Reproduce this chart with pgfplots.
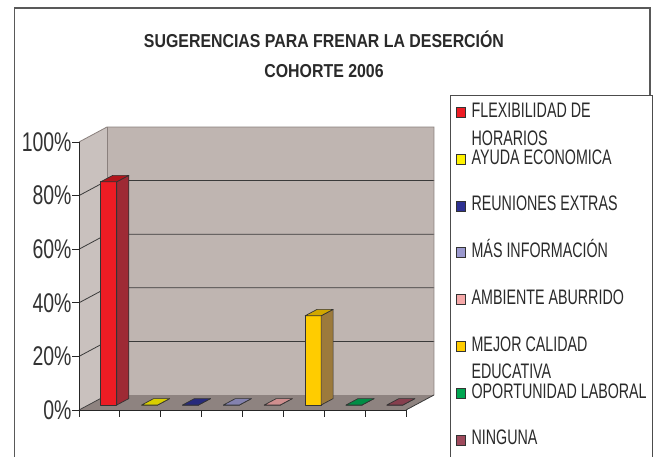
\documentclass[border=0pt]{standalone}
\usepackage{pgfplots}
\pgfplotsset{compat=1.18}
\usepackage{fontspec}
\setmainfont{Liberation Sans}
\newfontfamily\titlefam[FakeStretch=0.85]{Liberation Sans}
\newfontfamily\tickfam[FakeStretch=0.72]{Liberation Sans}
\newfontfamily\legfam[FakeStretch=0.68]{Liberation Sans}
\newcommand\titlefont{\titlefam\bfseries\fontsize{18.7bp}{22bp}\selectfont}
\newcommand\tickfont{\tickfam\fontsize{27bp}{30bp}\selectfont}
\newcommand\legfont{\legfam\fontsize{21bp}{24bp}\selectfont}

\definecolor{wallback}{HTML}{BFB5B1}
\definecolor{wallside}{HTML}{C9C1BE}
\definecolor{wallfloor}{HTML}{8E8380}
\definecolor{walledge}{HTML}{8A807D}
\definecolor{gridc}{HTML}{3A3A3A}
\definecolor{txt}{HTML}{2A2A2A}
\definecolor{cA}{HTML}{ED1C24}
\definecolor{cB}{HTML}{FFF200}
\definecolor{cC}{HTML}{2E3192}
\definecolor{cD}{HTML}{9B99CE}
\definecolor{cE}{HTML}{F5A8A8}
\definecolor{cF}{HTML}{FFCC00}
\definecolor{cG}{HTML}{00A651}
\definecolor{cH}{HTML}{9E4A5C}

\newcommand\declbar[4]{%
  \pgfdeclareplotmark{#1}{%
    \pgfmathsetlengthmacro\bh{\barv*2.68bp}%
    \pgfsetlinewidth{0.7bp}%
    \pgfsetstrokecolor{black!80}%
    \pgfsetroundjoin
    \pgfsetfillcolor{#2}%
    \pgfpathrectanglecorners{\pgfpoint{1.33bp}{5bp-\bh}}{\pgfpoint{17.33bp}{5bp}}%
    \pgfusepath{fill,stroke}%
    \pgfsetfillcolor{#3}%
    \pgfpathmoveto{\pgfpoint{17.33bp}{5bp-\bh}}%
    \pgfpathlineto{\pgfpoint{17.33bp}{5bp}}%
    \pgfpathlineto{\pgfpoint{29.33bp}{11.4bp}}%
    \pgfpathlineto{\pgfpoint{29.33bp}{11.4bp-\bh}}%
    \pgfpathclose
    \pgfusepath{fill,stroke}%
    \pgfsetfillcolor{#4}%
    \pgfpathmoveto{\pgfpoint{1.33bp}{5bp}}%
    \pgfpathlineto{\pgfpoint{17.33bp}{5bp}}%
    \pgfpathlineto{\pgfpoint{29.33bp}{11.4bp}}%
    \pgfpathlineto{\pgfpoint{13.33bp}{11.4bp}}%
    \pgfpathclose
    \pgfusepath{fill,stroke}%
  }}
\declbar{barA}{cA}{HTML9E2A35}{cA!75!black}
\declbar{barB}{cB}{cB!60!black}{cB!85!black}
\declbar{barC}{cC}{cC!60!black}{cC!85!black}
\declbar{barD}{cD}{cD!60!black}{cD!85!black}
\declbar{barE}{cE}{cE!60!black}{cE!85!black}
\declbar{barF}{cF}{bfside}{cF!82!black}
\declbar{barG}{cG}{cG!60!black}{cG!85!black}
\declbar{barH}{cH}{cH!60!black}{cH!85!black}
\definecolor{HTML9E2A35}{HTML}{9E2A35}
\definecolor{bfside}{HTML}{9C7A3C}

\pgfplotsset{
  bar3d/.style={scatter, only marks, point meta=y, point meta min=0, point meta max=100,
    visualization depends on={value \thisrow{v} \as \barv},
    scatter/@pre marker code/.code={\pgfscope},
    scatter/@post marker code/.code={\endpgfscope}},
  legsw/.style={legend image code/.code={\draw[draw=black!80, line width=0.6bp, fill=#1] (0bp,0bp) rectangle (8.5bp,10bp);}}
}

\begin{document}
\begin{tikzpicture}
\path[use as bounding box] (0,0) rectangle (658bp,457bp);
\clip (0,0) rectangle (658bp,457bp);
\fill[white] (0,0) rectangle (658bp,457bp);
\draw[black!65, line width=1.3bp] (14.7bp,-5bp) -- (14.7bp,449bp) -- (650bp,449bp) -- (650bp,-5bp);
\node[font=\titlefont, anchor=base, text=txt, inner sep=0pt] at (324bp,409.3bp) {SUGERENCIAS PARA FRENAR LA DESERCIÓN};
\node[font=\titlefont, anchor=base, text=txt, inner sep=0pt] at (324bp,379.3bp) {COHORTE 2006};
\begin{axis}[
  at={(79bp,47bp)}, anchor=south west,
  scale only axis, width=327bp, height=268bp,
  xmin=0, xmax=8, ymin=0, ymax=100,
  clip=false,
  axis line style={draw=none},
  tick pos=left,
  xtick={0,1,2,3,4,5,6,7,8}, xticklabels={},
  ytick={0,20,40,60,80,100},
  yticklabels={0\%,20\%,40\%,60\%,80\%,100\%},
  tick align=outside, major tick length=6.5bp,
  tick style={draw=black!85, line width=0.8bp},
  yticklabel style={font=\tickfont, text=black!80, inner xsep=0.8bp},
  legend style={at={(axis description cs:1.13456,1.17537)}, anchor=north west,
    draw=black!70, line width=1bp, fill=white, font=\legfont, text=txt,
    inner xsep=5.5bp, inner ysep=6.7bp, row sep=0pt, column sep=6.5bp,
    cells={anchor=base west},
    nodes={inner sep=0pt, text height=15bp, text depth=31.8bp}},
]
% walls
\fill[wallside] (axis cs:0,0) -- (axis cs:0,100) -- ([shift={(28bp,15bp)}]axis cs:0,100) -- ([shift={(28bp,15bp)}]axis cs:0,0) -- cycle;
\fill[wallfloor] (axis cs:0,0) -- (axis cs:8,0) -- ([shift={(28bp,15bp)}]axis cs:8,0) -- ([shift={(28bp,15bp)}]axis cs:0,0) -- cycle;
\fill[wallback] ([shift={(28bp,15bp)}]axis cs:0,0) rectangle ([shift={(28bp,15bp)}]axis cs:8,100);
\pgfplotsinvokeforeach{20,40,60,80}{
  \draw[gridc, line width=0.8bp] (axis cs:0,#1) -- ([shift={(28bp,15bp)}]axis cs:0,#1) -- ([shift={(28bp,15bp)}]axis cs:8,#1);
}
\draw[walledge, line width=0.8bp] (axis cs:0,100) -- ([shift={(28bp,15bp)}]axis cs:0,100) -- ([shift={(28bp,15bp)}]axis cs:8,100) -- ([shift={(28bp,15bp)}]axis cs:8,0);
\draw[walledge, line width=0.6bp] ([shift={(28bp,15bp)}]axis cs:0,0) -- ([shift={(28bp,15bp)}]axis cs:0,100);
\draw[gridc, line width=0.7bp] (axis cs:0,0) -- ([shift={(28bp,15bp)}]axis cs:0,0);
\draw[gridc, line width=0.8bp] (axis cs:8,0) -- ([shift={(28bp,15bp)}]axis cs:8,0);
% bars
\addplot[bar3d, mark=barA, legsw=cA] table[row sep=\\] {x v\\ 0.5 83.3\\};
\addlegendentry{\rlap{\raisebox{-28.3bp}{HORARIOS}}FLEXIBILIDAD DE}
\addplot[bar3d, mark=barB, legsw=cB] table[row sep=\\] {x v\\ 1.5 0\\};
\addlegendentry{AYUDA ECONOMICA}
\addplot[bar3d, mark=barC, legsw=cC] table[row sep=\\] {x v\\ 2.5 0\\};
\addlegendentry{REUNIONES EXTRAS}
\addplot[bar3d, mark=barD, legsw=cD] table[row sep=\\] {x v\\ 3.5 0\\};
\addlegendentry{MÁS INFORMACIÓN}
\addplot[bar3d, mark=barE, legsw=cE] table[row sep=\\] {x v\\ 4.5 0\\};
\addlegendentry{AMBIENTE ABURRIDO}
\addplot[bar3d, mark=barF, legsw=cF] table[row sep=\\] {x v\\ 5.5 33.3\\};
\addlegendentry{\rlap{\raisebox{-27bp}{EDUCATIVA}}MEJOR CALIDAD}
\addplot[bar3d, mark=barG, legsw=cG] table[row sep=\\] {x v\\ 6.5 0\\};
\addlegendentry{OPORTUNIDAD LABORAL}
\addplot[bar3d, mark=barH, legsw=cH] table[row sep=\\] {x v\\ 7.5 0\\};
\addlegendentry{NINGUNA}
% front axis lines
\draw[black!85, line width=0.8bp] (axis cs:0,100) -- (axis cs:0,0) -- (axis cs:8,0);
\end{axis}
\end{tikzpicture}
\end{document}
